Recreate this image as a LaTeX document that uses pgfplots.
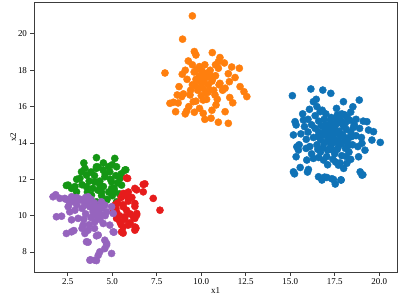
\documentclass[border=0pt]{standalone}
\usepackage{pgfplots}
\pgfplotsset{compat=1.18}
\usepackage{fontspec}
\setmainfont{Liberation Serif}
\definecolor{cblue}{RGB}{15,114,182}
\definecolor{corange}{RGB}{255,127,14}
\definecolor{cgreen}{RGB}{20,150,20}
\definecolor{cred}{RGB}{230,28,28}
\definecolor{cpurple}{RGB}{150,100,190}
\definecolor{frame}{RGB}{60,60,60}
\begin{document}
\begin{tikzpicture}
\begin{axis}[
  scale only axis, width=363bp, height=269bp,
  xmin=0.6, xmax=21.0, ymin=6.9, ymax=21.7,
  xtick={2.5,5,7.5,10,12.5,15,17.5,20},
  ytick={8,10,12,14,16,18,20},
  xticklabel style={/pgf/number format/.cd, fixed, fixed zerofill, precision=1},
  /pgf/number format/assume math mode=true,
  tick label style={font=\fontsize{9}{11}\selectfont, text=black},
  label style={font=\fontsize{9}{11}\selectfont, text=black},
  xtick pos=lower, ytick pos=left, tick align=outside,
  major tick length=3.5bp,
  axis line style={frame, line width=1pt},
  every tick/.style={frame, line width=0.8pt},
  xlabel={x1}, ylabel={x2},
  xlabel style={yshift=4bp},
  ylabel style={yshift=-5bp},
  only marks,
  every axis plot/.append style={mark=*, mark size=3.6pt},
]
% blue cluster
\addplot[cblue, mark options={draw=cblue, fill=cblue}] coordinates {
(15.12,16.60)(16.16,16.97)(16.83,16.91)(17.28,16.73)(16.46,16.40)(16.30,16.27)(17.99,16.27)(18.88,16.36)
(18.52,15.99)(16.08,15.85)(16.68,15.72)(15.27,15.17)(15.33,14.99)(15.74,15.26)(19.31,15.17)(19.40,14.71)
(19.68,14.62)(19.59,14.16)(20.06,14.03)(19.03,13.98)(15.18,14.44)(15.37,13.79)(15.33,13.24)(15.46,13.61)
(15.89,13.70)(15.18,12.41)(15.56,12.65)(16.02,12.54)(16.59,12.14)(16.78,11.96)(17.06,12.10)(17.43,11.99)
(17.86,11.96)(17.53,11.74)(18.93,12.41)(19.03,12.23)(18.84,13.24)(18.18,12.88)(17.71,12.78)(16.87,13.06)
(16.30,13.15)(15.93,13.06)(15.24,12.30)(15.97,12.40)(16.93,12.12)(17.34,12.03)(17.85,11.97)(19.08,12.25)
(16.4,14.8)(16.6,15.2)(16.8,14.5)(17.0,15.0)(17.2,14.2)(17.4,14.7)(17.6,15.3)(17.8,14.4)(18.0,14.9)(18.2,14.1)
(18.4,14.6)(18.6,15.0)(16.5,13.9)(16.7,13.5)(16.9,14.0)(17.1,13.6)(17.3,13.9)(17.5,13.4)(17.7,13.8)(17.9,13.3)
(18.1,13.7)(18.3,13.5)(18.5,13.9)(16.3,14.3)(16.6,14.6)(17.0,14.4)(17.3,15.4)(17.5,14.9)(17.7,14.1)(17.9,15.6)
(18.2,15.4)(18.4,15.7)(17.0,15.6)(16.8,15.8)(17.6,15.9)(16.2,15.0)(16.0,14.6)(15.8,14.9)(15.9,14.2)(16.1,13.8)
(16.2,13.4)(18.7,14.4)(18.9,14.8)(18.8,13.8)(19.0,14.3)(17.4,13.1)(17.8,12.9)(17.1,12.8)(16.6,13.2)(18.4,13.1)
(18.0,12.6)(17.2,14.9)(17.6,14.6)(17.9,14.0)(17.1,14.1)(16.9,15.3)(18.3,14.3)(18.1,15.1)(16.7,14.2)(17.4,13.6)
(17.7,15.1)(16.4,15.5)(16.0,15.3)(15.6,14.5)(15.5,13.9)(19.1,15.2)(18.7,15.3)(19.2,13.6)(15.7,15.6)(16.5,16.0)
(17.15,14.55)(17.35,14.35)(17.55,14.15)(17.75,14.65)(17.95,14.45)(18.15,14.75)(17.25,13.75)(17.45,14.05)
(17.65,13.65)(17.85,13.95)(18.05,14.25)(18.25,13.85)(16.95,14.75)(17.35,15.05)(17.65,15.55)(17.85,15.25)
(18.05,15.55)(16.75,14.95)(16.55,14.35)(16.85,13.75)(17.05,13.25)(17.55,12.95)(18.15,13.25)(18.45,14.35)
(18.55,14.85)(18.35,15.25)(17.25,15.25)(16.55,13.65)(17.05,14.85)(17.45,14.45)
};
% orange cluster
\addplot[corange, mark options={draw=corange, fill=corange}] coordinates {
(9.50,20.99)(8.95,19.71)(7.96,17.85)(9.61,19.03)(9.70,18.84)(9.27,18.51)(10.62,18.97)(11.05,18.70)
(10.96,18.47)(11.71,18.18)(12.14,18.11)(10.96,18.11)(8.93,17.78)(11.52,17.81)(11.58,17.37)(12.18,17.10)
(12.40,16.82)(12.56,16.55)(8.75,17.10)(8.65,16.64)(8.90,16.55)(8.24,16.18)(8.43,16.24)(8.56,15.72)
(9.18,15.76)(9.61,15.69)(10.11,15.63)(10.55,15.36)(10.96,15.14)(11.52,15.08)(11.34,15.72)(11.77,16.21)
(10.83,16.09)(10.11,16.36)(9.55,16.27)(9.37,16.64)(9.83,17.01)(10.45,16.91)(10.77,16.64)(11.05,17.28)
(11.34,17.01)(10.11,17.65)
(9.6,17.9)(9.9,18.2)(10.2,17.8)(10.5,18.0)(10.8,17.7)(9.7,17.5)(10.0,17.3)(10.3,17.6)(10.6,17.4)(9.5,17.2)
(9.8,16.9)(10.1,17.0)(10.4,17.2)(10.7,16.9)(11.0,17.2)(10.2,18.3)(9.9,17.7)(10.5,17.7)(10.0,16.6)(10.3,16.4)
(9.4,16.9)(9.2,17.5)(9.1,18.0)(9.5,18.3)(10.8,18.3)(10.4,16.8)(9.7,16.3)(9.0,16.7)(10.9,16.4)(11.2,16.9)
(9.3,16.0)(9.9,15.9)(10.6,15.8)(10.2,15.3)(9.1,15.6)(8.7,16.2)(11.6,16.5)(11.9,17.6)(11.3,18.4)
(9.85,17.45)(10.15,17.35)(10.35,17.85)(10.65,17.55)(9.75,18.05)(10.05,17.95)(9.65,17.15)(10.25,16.75)
};
% green cluster
\addplot[cgreen, mark options={draw=cgreen, fill=cgreen}] coordinates {
(4.11,13.19)(5.14,13.15)(4.11,12.69)(3.46,12.60)(3.27,12.41)(5.24,12.69)(5.71,12.51)(2.52,11.68)
(2.71,11.50)(3.18,12.05)(3.55,11.59)(4.02,11.86)(4.58,12.14)(4.96,11.86)(5.43,12.05)(4.39,11.31)
(4.68,10.85)(4.11,10.76)(3.83,11.13)(5.14,11.31)(5.52,11.68)(2.99,11.31)(3.55,12.23)(4.49,12.51)
(4.86,12.41)(4.30,11.68)(4.96,11.50)(5.24,10.76)(4.21,12.67)(5.76,12.52)(2.42,11.66)
(3.7,11.9)(4.0,12.2)(4.3,11.9)(4.6,12.3)(4.9,12.0)(5.2,12.2)(3.9,11.5)(4.2,11.4)(4.5,11.6)(4.8,11.3)
(5.1,11.5)(5.4,11.2)(3.6,11.3)(4.4,11.1)(4.7,10.9)(5.0,11.1)(3.3,11.7)(3.0,12.0)(4.1,12.6)(4.8,12.7)
(3.8,12.4)(5.3,11.8)(5.5,12.3)(2.9,11.6)(3.4,12.9)(4.5,12.9)(5.0,12.8)
};
% red cluster
\addplot[cred, mark options={draw=cred, fill=cred}] coordinates {
(5.86,12.05)(6.27,11.50)(6.74,11.72)(6.74,11.31)(7.30,10.95)(7.68,10.30)(5.61,11.13)(5.14,10.58)
(5.24,10.21)(5.61,10.49)(6.27,10.67)(6.37,10.12)(6.27,9.85)(5.71,9.94)(5.43,9.66)(5.61,9.38)
(5.52,9.11)(5.89,9.48)(6.27,9.38)(6.27,9.20)(5.05,10.21)(5.61,11.22)(5.89,10.95)(5.24,9.85)
(6.83,11.75)(6.37,11.42)(6.27,10.51)(6.37,10.04)(6.33,9.31)(5.61,9.04)(5.80,12.07)
(5.5,11.0)(5.7,11.2)(5.9,10.8)(5.6,10.6)(5.8,10.3)(6.0,10.1)(5.4,10.0)(5.7,9.8)(6.0,9.6)(5.5,9.5)
(5.9,11.3)(6.1,11.0)(5.3,10.7)(5.2,10.4)(6.2,9.9)
};
% purple cluster
\addplot[cpurple, mark options={draw=cpurple, fill=cpurple}] coordinates {
(1.67,11.04)(2.05,10.95)(1.86,9.94)(2.15,9.97)(2.42,9.02)(2.71,9.11)(2.61,10.21)(2.52,10.49)
(2.89,10.76)(3.27,10.85)(3.46,10.58)(3.08,9.85)(3.36,9.48)(3.46,9.02)(3.64,9.20)(3.55,8.56)
(4.21,8.93)(4.58,8.65)(4.68,8.47)(4.58,8.19)(4.96,7.92)(4.49,9.57)(4.86,9.48)(5.05,9.11)
(3.74,7.55)(4.02,7.55)(4.21,7.82)(4.30,8.01)(3.92,10.21)(4.39,10.03)(4.68,10.21)(4.02,9.66)
(3.74,10.49)(4.21,10.49)(4.58,10.58)(4.96,10.49)(5.05,10.12)(2.33,10.95)(2.71,11.04)(3.64,11.04)
(4.39,10.76)(1.82,11.15)(2.84,9.18)(2.71,9.77)(3.64,8.54)(3.78,7.57)(4.11,7.53)(4.68,8.39)
(5.09,9.09)(4.11,8.89)
(3.0,10.6)(3.3,10.4)(3.6,10.7)(3.9,10.5)(4.2,10.3)(3.5,10.1)(3.8,9.9)(4.1,10.0)(4.4,10.4)(3.2,10.9)
(3.5,11.0)(3.8,10.9)(4.0,10.7)(3.4,9.8)(3.7,9.5)(4.3,9.8)(2.9,10.3)(4.6,10.0)(4.0,9.3)(3.3,9.3)
(2.6,10.7)(2.4,10.9)(3.0,11.0)
};
\end{axis}
\path ([xshift=-34bp,yshift=-34bp]current axis.south west) ([xshift=3bp,yshift=3bp]current axis.north east);
\end{tikzpicture}
\end{document}
